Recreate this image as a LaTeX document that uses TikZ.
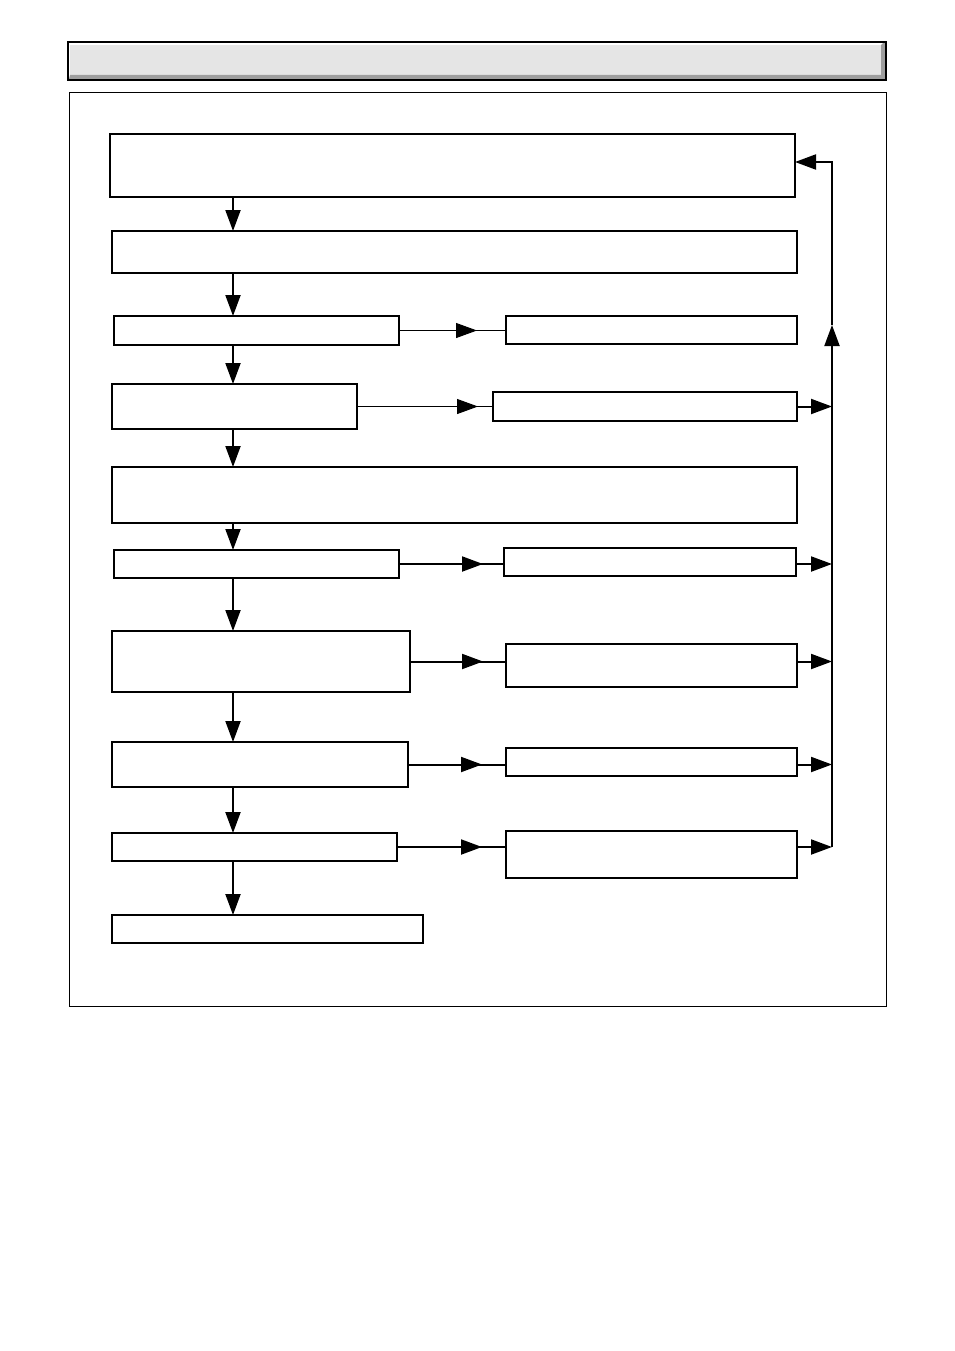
\documentclass[tikz,border=0pt]{standalone}
\usetikzlibrary{arrows.meta,calc}
\tikzset{
  box/.style={draw=black, line width=2pt, fill=white, inner sep=0pt, outer sep=0pt},
  tipA/.style={-{Triangle[length=21pt,width=15pt]}},
  thinline/.style={line width=1pt},
  thickline/.style={line width=2pt},
}
\newcommand{\bx}[5]{\node[box, minimum width=#4pt, minimum height=#5pt] (#1) at (#2,#3) {};}
\begin{document}
\begin{tikzpicture}[x=1pt,y=-1pt]
\useasboundingbox (0,0) rectangle (954,1351);
% title bar
\fill[white] (68,42) rectangle (886,80);
\fill[black!10] (70,45) rectangle (881,75);
\fill[black!38] (70,75) -- (881,75) -- (881,45) -- (885,41) -- (885,79) -- (69,79) -- cycle;
\draw[line width=1.2pt] (68,42) rectangle (886,80);
% frame
\draw[line width=1pt] (69,93) rectangle (886,1006);
% boxes
\bx{b1}{452.5}{165.5}{685}{63}
\bx{b2}{454.5}{252}{685}{42}
\bx{b3}{256.5}{330.5}{285}{29}
\bx{r3}{651.5}{330}{291}{28}
\bx{b4}{234.5}{406.5}{245}{45}
\bx{r4}{645}{406.5}{304}{29}
\bx{b5}{454.5}{495}{685}{56}
\bx{b6}{256.5}{564}{285}{28}
\bx{r6}{650}{562}{292}{28}
\bx{b7}{261}{661.5}{298}{61}
\bx{r7}{651.5}{665.5}{291}{43}
\bx{b8}{260}{764.5}{296}{45}
\bx{r8}{651.5}{762}{291}{28}
\bx{b9}{254.5}{847}{285}{28}
\bx{r9}{651.5}{854.5}{291}{47}
\bx{b10}{267.5}{929}{311}{28}
% spine coordinates
\coordinate (col) at (233,0);
\coordinate (spineTop) at (832,162);
\coordinate (spineMid) at (832,325);
\coordinate (spineBot) at (832,847);
% vertical arrows
\foreach \a/\b in {b1/b2,b2/b3,b3/b4,b4/b5,b5/b6,b6/b7,b7/b8,b8/b9,b9/b10}{
  \draw[thickline,tipA] (\a.south -| col) -- (\b.north -| col);
}
% horizontal arrows
\foreach \a/\b/\w/\g in {b3/r3/thinline/29, b4/r4/thinline/15, b6/r6/thickline/21, b7/r7/thickline/23, b8/r8/thickline/24, b9/r9/thickline/24}{
  \draw[\w] (\a.east) -- (\a.east -| \b.west);
  \draw[\w,tipA] (\a.east) -- ($(\a.east -| \b.west)+(-\g,0)$);
}
% feedback arrows
\foreach \a/\b in {b4/r4, b6/r6, b7/r7, b8/r8, b9/r9}{
  \draw[thickline,tipA] (\a.east -| \b.east) -- (\a.east -| spineTop);
}
\draw[thickline,tipA] (spineBot) -- (spineMid);
\draw[thickline,tipA] (spineMid) -- (spineTop) -- (spineTop -| b1.east);
\end{tikzpicture}
\end{document}
